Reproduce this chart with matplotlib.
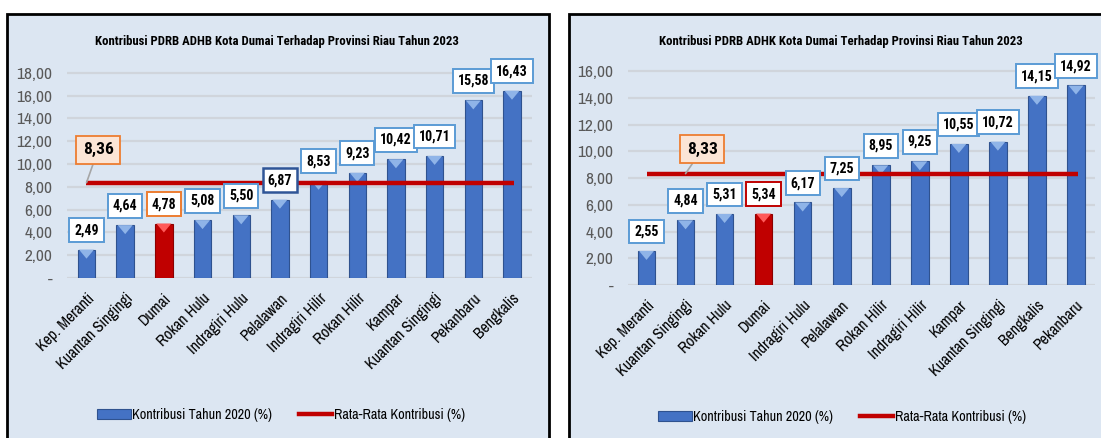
import matplotlib
matplotlib.use("Agg")
import matplotlib.pyplot as plt
from matplotlib import font_manager
from matplotlib.patches import Rectangle, Patch
from matplotlib.lines import Line2D
from matplotlib.markers import MarkerStyle
from matplotlib.transforms import ScaledTranslation
import numpy as np

# ---- data -------------------------------------------------------------
adhb_regions = ["Kep. Meranti", "Kuantan Singingi", "Dumai", "Rokan Hulu",
                "Indragiri Hulu", "Pelalawan", "Indragiri Hilir", "Rokan Hilir",
                "Kampar", "Kuantan Singingi", "Pekanbaru", "Bengkalis"]
adhb_values = [2.49, 4.64, 4.78, 5.08, 5.50, 6.87, 8.53, 9.23, 10.42, 10.71, 15.58, 16.43]
adhb_avg = 8.36
adhb_ticks = [0, 2, 4, 6, 8, 10, 12, 14, 16, 18]

adhk_regions = ["Kep. Meranti", "Kuantan Singingi", "Rokan Hulu", "Dumai",
                "Indragiri Hulu", "Pelalawan", "Rokan Hilir", "Indragiri Hilir",
                "Kampar", "Kuantan Singingi", "Bengkalis", "Pekanbaru"]
adhk_values = [2.55, 4.84, 5.31, 5.34, 6.17, 7.25, 8.95, 9.25, 10.55, 10.72, 14.15, 14.92]
adhk_avg = 8.33
adhk_ticks = [0, 2, 4, 6, 8, 10, 12, 14, 16]

titles = ["Kontribusi PDRB ADHB Kota Dumai Terhadap Provinsi Riau Tahun 2023",
          "Kontribusi PDRB ADHK Kota Dumai Terhadap Provinsi Riau Tahun 2023"]
legend_labels = ["Kontribusi Tahun 2020 (%)", "Rata-Rata Kontribusi (%)"]

# ---- style ------------------------------------------------------------
names = {f.name for f in font_manager.fontManager.ttflist}


def pick(cands):
    for c in cands:
        if c in names:
            return c
    return "DejaVu Sans"


FONT = pick(["Archivo Narrow", "Roboto Condensed"])
BOLD = pick(["Roboto Condensed", "Archivo Narrow"])
plt.rcParams["font.family"] = [FONT, "DejaVu Sans"]

BG = "#DCE6F2"
BLUE = "#4472C4"
BLUE_EDGE = "#2F528F"
BLUE_TOP = "#8FB4E8"
RED = "#C00000"
RED_TOP = "#FF5A5A"
GRID = "#D0D5DC"
BOX_EDGE = "#5B9BD5"

tri = MarkerStyle([(-1, 0), (1, 0), (0, -1.2), (-1, 0)])

W, H = 1101, 438
fig = plt.figure(figsize=(W / 100, H / 100), dpi=100)
fig.patch.set_facecolor("white")

# panel frames
for left in (7, 569):
    fig.patches.append(Rectangle((left / W, -0.02), 542 / W, 1.0 - 14 / H + 0.02,
                                 transform=fig.transFigure, facecolor=BG,
                                 edgecolor="black", linewidth=2, zorder=-5))


def fmt(v):
    return f"{v:.2f}".replace(".", ",")


def panel(ax, regions, values, avg, ticks, top, highlight, box_edges, box_lw,
          avg_text_xy, avg_line_start, title, title_x, legend_anchor):
    x = np.arange(len(values))
    colors = [RED if i == highlight else BLUE for i in x]
    tops = [RED_TOP if i == highlight else BLUE_TOP for i in x]
    edges = ["#8B0000" if i == highlight else BLUE_EDGE for i in x]
    ax.set_facecolor("none")
    ax.set_zorder(2)
    ax.bar(x, values, width=0.45, color=colors, edgecolor=edges, linewidth=0.8, zorder=2)
    ax.scatter(x, values, marker=tri, s=13 ** 2, c=tops, linewidths=0, zorder=3)
    ax.plot([x[0], x[-1] + 0.05], [avg, avg], color=RED, lw=3.2,
            solid_capstyle="butt", zorder=4)

    for i, v in enumerate(values):
        ax.annotate(fmt(v), (x[i], v), xytext=(0, 14), textcoords="offset points",
                    ha="center", va="center", fontsize=10, fontweight="bold",
                    family=[BOLD, "DejaVu Sans"], color="black", zorder=6,
                    bbox=dict(boxstyle="square,pad=0.35", fc="white",
                              ec=box_edges.get(i, BOX_EDGE), lw=box_lw.get(i, 1.4)))

    ax.annotate(fmt(avg), (avg_line_start, avg), xytext=avg_text_xy, textcoords="data",
                ha="center", va="center", fontsize=12.5, fontweight="bold",
                family=[BOLD, "DejaVu Sans"], zorder=6,
                bbox=dict(boxstyle="square,pad=0.38", fc="#FBE5D6", ec="#ED7D31", lw=1.3),
                arrowprops=dict(arrowstyle="-", color="#A6A6A6", lw=1.2,
                                shrinkA=0, shrinkB=0))

    ax.set_ylim(0, top)
    ax.set_yticks(ticks)
    ax.set_yticklabels(["-"] + [fmt(t) for t in ticks[1:]], fontsize=12.5, color="#595959")
    ax.set_xticks(x)
    ax.set_xticklabels(regions, rotation=45, ha="right", rotation_mode="anchor",
                       fontsize=11.3, color="black")
    shift = ScaledTranslation(3 / 72, 0, fig.dpi_scale_trans)
    for lab in ax.get_xticklabels():
        lab.set_transform(lab.get_transform() + shift)
    ax.tick_params(length=0, axis="both")
    ax.tick_params(axis="y", pad=10.5)
    ax.tick_params(axis="x", pad=9)
    ax.grid(axis="y", color=GRID, lw=1.6, zorder=1)
    ax.set_axisbelow(True)
    for s in ax.spines.values():
        s.set_visible(False)

    fig.text(title_x, 1 - 41 / H, title, ha="center", va="center",
             fontsize=9.2, fontweight="bold", family=[BOLD, "DejaVu Sans"])

    handles = [Patch(facecolor=BLUE, edgecolor=BLUE_EDGE, lw=0.8),
               Line2D([0], [0], color=RED, lw=3.2)]
    ax.legend(handles, legend_labels, ncol=2, frameon=False, fontsize=10.2,
              loc="center", bbox_to_anchor=legend_anchor, bbox_transform=fig.transFigure,
              handlelength=2.35, handleheight=0.8, handletextpad=0.1, columnspacing=1.9)


# left panel: 0 at y=278px, bars 86.5 .. 512 px
ax1 = fig.add_axes([67 / W, (H - 278) / H, 465 / W, 228 / H])
ax1.set_xlim(-0.504, 11.517)
panel(ax1, adhb_regions, adhb_values, adhb_avg, adhb_ticks, 20, 2,
      {2: "#ED7D31", 5: "#2F5597"}, {5: 1.8},
      (0.30, 11.24), 0.0, titles[0], 277 / W, (281 / W, 1 - 415 / H))

# right panel: 0 at y=285px, bars 646.5 .. 1076 px
ax2 = fig.add_axes([628 / W, (H - 285) / H, 467 / W, 234 / H])
ax2.set_xlim(-0.474, 11.487)
panel(ax2, adhk_regions, adhk_values, adhk_avg, adhk_ticks, 17.5, 3,
      {3: RED}, {},
      (1.43, 10.17), 1.0, titles[1], 841 / W, (842 / W, 1 - 417 / H))

fig.savefig("out.png", dpi=100)
